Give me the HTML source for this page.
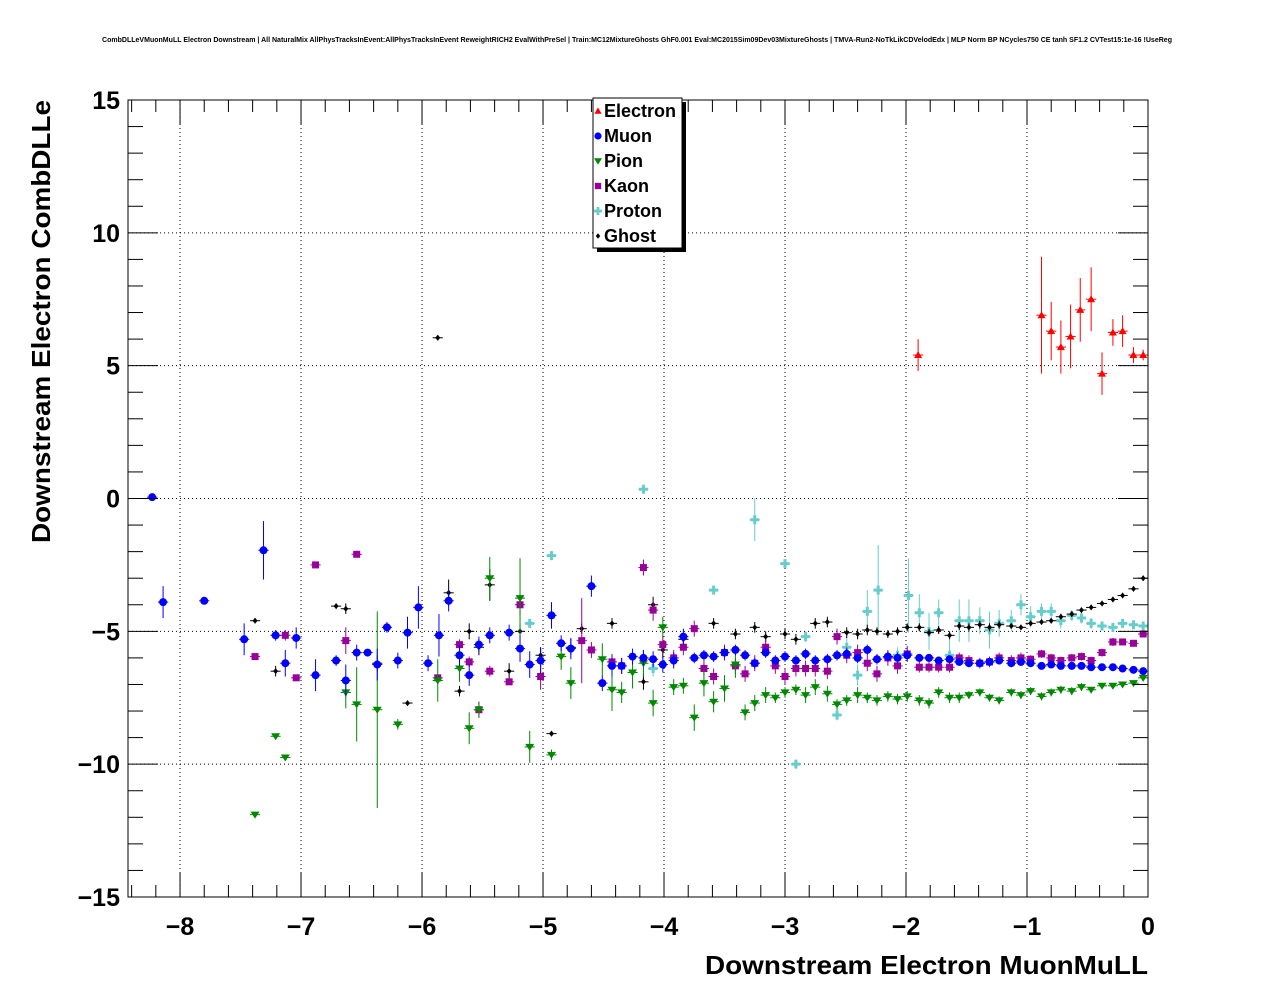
<!DOCTYPE html>
<html><head><meta charset="utf-8">
<style>
html,body{margin:0;padding:0;background:#fff;}
svg{display:block;font-family:"Liberation Sans",Arial,sans-serif;}
</style></head>
<body>
<svg id="chart" width="1276" height="996" viewBox="0 0 1276 996" xmlns="http://www.w3.org/2000/svg">
<rect x="0" y="0" width="1276" height="996" fill="#fff"/>
<text x="637" y="42" font-size="7" font-weight="bold" text-anchor="middle" textLength="1070" lengthAdjust="spacingAndGlyphs">CombDLLeVMuonMuLL Electron Downstream | All NaturalMix AllPhysTracksInEvent:AllPhysTracksInEvent ReweightRICH2 EvalWithPreSel | Train:MC12MixtureGhosts GhF0.001 Eval:MC2015Sim09Dev03MixtureGhosts | TMVA-Run2-NoTkLikCDVelodEdx | MLP Norm BP NCycles750 CE tanh SF1.2 CVTest15:1e-16 !UseReg</text>
<g id="grid"></g>
<g id="marks"></g>
<rect x="128" y="100" width="1020" height="797" fill="none" stroke="#000" stroke-width="1"/>
<g id="axes"></g>
<text x="1148" y="974" font-size="26" font-weight="bold" text-anchor="end" textLength="443" lengthAdjust="spacingAndGlyphs">Downstream Electron MuonMuLL</text>
<text transform="translate(50,100) rotate(-90)" font-size="26" font-weight="bold" text-anchor="end" textLength="443" lengthAdjust="spacingAndGlyphs">Downstream Electron CombDLLe</text>
<g id="legend"></g>
</svg>
<script>
const xTicks=[-8,-7,-6,-5,-4,-3,-2,-1,0];
const yTicks=[-15,-10,-5,0,5,10,15];
const electronPts=[[-1.90,5.4,0.6],[-0.88,6.9,2.2],[-0.80,6.3,1.1],[-0.72,5.7,1.0],[-0.64,6.1,1.2],[-0.56,7.1,1.2],[-0.47,7.5,1.2],[-0.38,4.7,0.8],[-0.29,6.25,0.5],[-0.21,6.3,0.6],[-0.12,5.4,0.3],[-0.04,5.4,0.2]];
const muonPts=[[-8.23,0.05,0.1],[-8.14,-3.9,0.6],[-7.80,-3.85,0.1],[-7.47,-5.3,0.6],[-7.31,-1.95,1.1],[-7.21,-5.15,0.2],[-7.13,-6.2,0.5],[-7.04,-5.25,0.4],[-6.88,-6.65,0.6],[-6.71,-6.1,0.2],[-6.63,-6.85,0.6],[-6.54,-5.8,0.3],[-6.45,-5.8,0.1],[-6.37,-6.25,0.6],[-6.29,-4.85,0.2],[-6.20,-6.1,0.3],[-6.12,-5.05,0.6],[-6.03,-4.1,0.8],[-5.95,-6.2,0.3],[-5.86,-5.15,0.8],[-5.78,-3.85,0.4],[-5.69,-5.9,0.4],[-5.61,-6.65,0.4],[-5.53,-5.5,0.3],[-5.44,-5.15,0.3],[-5.28,-5.05,0.3],[-5.19,-5.65,0.5],[-5.11,-6.25,0.5],[-5.02,-6.1,0.5],[-4.93,-4.4,0.5],[-4.85,-5.45,0.3],[-4.77,-5.65,0.4],[-4.60,-3.3,0.4],[-4.51,-6.95,0.3],[-4.43,-6.3,0.4],[-4.35,-6.3,0.3],[-4.26,-5.95,0.3],[-4.17,-6.0,0.3],[-4.09,-6.05,0.3],[-4.01,-6.25,0.3],[-3.92,-6.1,0.3],[-3.84,-5.2,0.3],[-3.75,-6.0,0.2],[-3.67,-5.9,0.2],[-3.59,-5.95,0.2],[-3.50,-5.8,0.2],[-3.41,-5.7,0.2],[-3.33,-5.9,0.2],[-3.25,-6.2,0.2],[-3.16,-5.8,0.2],[-3.08,-6.1,0.2],[-3.00,-5.95,0.2],[-2.91,-6.1,0.2],[-2.83,-5.85,0.2],[-2.75,-6.1,0.2],[-2.65,-6.05,0.2],[-2.57,-5.9,0.2],[-2.49,-5.85,0.2],[-2.40,-6.0,0.2],[-2.32,-5.7,0.2],[-2.24,-6.05,0.2],[-2.15,-5.95,0.2],[-2.07,-6.0,0.2],[-1.99,-5.9,0.2],[-1.89,-6.0,0.15],[-1.81,-6.0,0.15],[-1.73,-6.1,0.15],[-1.64,-6.05,0.15],[-1.56,-6.15,0.15],[-1.48,-6.2,0.15],[-1.39,-6.2,0.15],[-1.31,-6.15,0.15],[-1.23,-6.1,0.15],[-1.13,-6.2,0.15],[-1.05,-6.15,0.15],[-0.97,-6.2,0.1],[-0.88,-6.3,0.1],[-0.80,-6.25,0.1],[-0.72,-6.3,0.1],[-0.63,-6.3,0.1],[-0.55,-6.3,0.1],[-0.47,-6.35,0.1],[-0.38,-6.35,0.1],[-0.29,-6.35,0.1],[-0.21,-6.4,0.1],[-0.12,-6.45,0.1],[-0.04,-6.5,0.1]];
const pionPts=[[-7.38,-11.9,0.1],[-7.21,-8.95,0.1],[-7.13,-9.75,0.1],[-6.63,-7.3,0.6],[-6.54,-7.75,1.4],[-6.37,-7.95,3.7],[-6.20,-8.5,0.2],[-5.87,-6.85,0.8],[-5.69,-6.4,0.5],[-5.61,-8.65,0.6],[-5.53,-7.95,0.3],[-5.44,-3.0,0.8],[-5.19,-3.75,1.5],[-5.11,-9.35,0.6],[-4.93,-9.65,0.2],[-4.85,-5.95,0.5],[-4.77,-6.95,0.6],[-4.51,-6.05,0.6],[-4.43,-7.2,0.8],[-4.35,-7.3,0.4],[-4.26,-6.55,0.6],[-4.17,-6.2,0.5],[-4.09,-7.7,0.5],[-4.01,-4.85,0.4],[-3.92,-7.1,0.3],[-3.84,-7.05,0.3],[-3.75,-8.25,0.5],[-3.67,-6.95,0.5],[-3.59,-7.65,0.4],[-3.50,-7.15,0.5],[-3.41,-6.25,0.5],[-3.33,-8.05,0.3],[-3.25,-7.7,0.3],[-3.16,-7.4,0.3],[-3.08,-7.5,0.2],[-3.00,-7.3,0.2],[-2.91,-7.2,0.2],[-2.83,-7.4,0.3],[-2.75,-7.1,0.3],[-2.65,-7.35,0.3],[-2.57,-7.75,0.2],[-2.49,-7.6,0.2],[-2.40,-7.4,0.3],[-2.32,-7.5,0.2],[-2.24,-7.6,0.2],[-2.15,-7.45,0.2],[-2.07,-7.55,0.2],[-1.99,-7.45,0.2],[-1.89,-7.6,0.2],[-1.81,-7.7,0.2],[-1.73,-7.3,0.2],[-1.64,-7.5,0.2],[-1.56,-7.5,0.2],[-1.48,-7.4,0.15],[-1.39,-7.3,0.15],[-1.31,-7.5,0.15],[-1.23,-7.6,0.15],[-1.13,-7.3,0.15],[-1.05,-7.4,0.15],[-0.97,-7.25,0.15],[-0.88,-7.45,0.15],[-0.80,-7.3,0.15],[-0.72,-7.2,0.15],[-0.63,-7.25,0.15],[-0.55,-7.1,0.15],[-0.47,-7.2,0.1],[-0.38,-7.05,0.1],[-0.29,-7.05,0.1],[-0.21,-7.0,0.1],[-0.12,-6.95,0.1],[-0.04,-6.75,0.1]];
const kaonPts=[[-7.38,-5.95,0.1],[-7.13,-5.15,0.2],[-7.04,-6.75,0.1],[-6.88,-2.5,0.1],[-6.63,-5.35,0.5],[-6.54,-2.1,0.1],[-5.87,-6.75,0.1],[-5.69,-5.5,0.2],[-5.61,-6.15,0.2],[-5.53,-7.95,0.3],[-5.44,-6.5,0.2],[-5.28,-6.9,0.1],[-5.19,-4.0,0.4],[-5.02,-6.7,0.5],[-4.68,-5.35,1.6],[-4.60,-5.7,0.3],[-4.43,-6.15,0.3],[-4.35,-6.3,0.3],[-4.17,-2.6,0.3],[-4.09,-4.2,0.4],[-4.01,-5.5,0.3],[-3.92,-6.0,0.3],[-3.84,-5.6,0.3],[-3.75,-4.9,0.3],[-3.67,-6.4,0.3],[-3.59,-6.7,0.3],[-3.50,-5.8,0.3],[-3.41,-6.3,0.3],[-3.33,-6.6,0.3],[-3.25,-6.2,0.3],[-3.16,-5.6,0.3],[-3.08,-6.3,0.3],[-3.00,-6.7,0.3],[-2.91,-6.4,0.3],[-2.83,-6.4,0.3],[-2.75,-6.4,0.3],[-2.65,-6.5,0.3],[-2.57,-5.2,0.3],[-2.49,-5.9,0.3],[-2.40,-5.8,0.3],[-2.32,-6.2,0.3],[-2.24,-6.6,0.3],[-2.15,-6.0,0.3],[-2.07,-6.3,0.3],[-1.99,-5.85,0.3],[-1.89,-6.35,0.2],[-1.81,-6.35,0.2],[-1.73,-6.35,0.2],[-1.64,-6.35,0.2],[-1.56,-6.0,0.2],[-1.48,-6.1,0.2],[-1.39,-6.2,0.2],[-1.31,-6.15,0.2],[-1.23,-6.0,0.2],[-1.13,-6.1,0.2],[-1.05,-6.0,0.2],[-0.97,-6.05,0.15],[-0.88,-5.85,0.15],[-0.80,-6.0,0.15],[-0.72,-6.1,0.15],[-0.63,-6.0,0.15],[-0.55,-5.95,0.15],[-0.47,-6.1,0.15],[-0.38,-5.8,0.15],[-0.29,-5.4,0.15],[-0.21,-5.4,0.1],[-0.12,-5.45,0.1],[-0.04,-5.1,0.1]];
const protonPts=[[-5.11,-4.7,0.1],[-4.93,-2.15,0.1],[-4.17,0.35,0.1],[-4.09,-6.4,0.3],[-3.59,-3.45,0.1],[-3.25,-0.8,0.8],[-3.00,-2.45,0.1],[-2.91,-10.0,0.1],[-2.83,-5.2,0.2],[-2.57,-8.15,0.2],[-2.49,-5.6,0.4],[-2.40,-6.65,0.4],[-2.32,-4.25,0.8],[-2.23,-3.45,1.7],[-2.07,-5.9,0.3],[-1.98,-3.65,1.4],[-1.89,-4.3,0.7],[-1.81,-5.0,0.7],[-1.73,-4.3,0.5],[-1.64,-5.9,0.6],[-1.56,-4.6,0.8],[-1.48,-4.6,0.8],[-1.39,-4.6,0.5],[-1.31,-4.95,0.7],[-1.23,-4.7,0.5],[-1.13,-4.6,0.4],[-1.05,-4.0,0.4],[-0.97,-4.45,0.4],[-0.88,-4.25,0.3],[-0.80,-4.25,0.3],[-0.72,-4.6,0.3],[-0.63,-4.4,0.2],[-0.55,-4.5,0.2],[-0.47,-4.7,0.2],[-0.38,-4.8,0.15],[-0.29,-4.85,0.15],[-0.21,-4.7,0.15],[-0.12,-4.75,0.15],[-0.04,-4.8,0.15]];
const ghostPts=[[-7.38,-4.6,0.1],[-7.21,-6.5,0.2],[-6.71,-4.05,0.1],[-6.63,-4.15,0.2],[-6.37,-6.2,0.3],[-6.12,-7.7,0.1],[-5.87,6.05,0.1],[-5.78,-3.55,0.5],[-5.69,-7.25,0.2],[-5.61,-5.0,0.3],[-5.53,-5.6,0.3],[-5.44,-3.25,0.6],[-5.28,-6.5,0.3],[-5.19,-5.0,0.3],[-5.02,-5.9,0.3],[-4.93,-8.85,0.1],[-4.77,-5.6,0.3],[-4.68,-4.9,0.2],[-4.43,-4.7,0.2],[-4.17,-6.9,0.3],[-4.09,-4.0,0.3],[-4.01,-5.7,0.3],[-3.84,-5.3,0.2],[-3.67,-6.4,0.2],[-3.59,-4.7,0.2],[-3.41,-5.1,0.2],[-3.25,-4.85,0.2],[-3.16,-5.2,0.2],[-3.00,-5.1,0.2],[-2.91,-5.3,0.2],[-2.75,-4.7,0.2],[-2.65,-4.65,0.2],[-2.49,-5.05,0.2],[-2.40,-5.1,0.2],[-2.32,-4.95,0.2],[-2.24,-5.0,0.15],[-2.15,-5.1,0.15],[-2.07,-5.0,0.15],[-1.99,-4.85,0.15],[-1.89,-4.85,0.15],[-1.81,-5.05,0.15],[-1.73,-4.95,0.15],[-1.64,-5.15,0.15],[-1.56,-4.8,0.15],[-1.48,-4.85,0.15],[-1.39,-4.75,0.15],[-1.31,-4.85,0.15],[-1.23,-4.75,0.15],[-1.13,-4.8,0.1],[-1.05,-4.85,0.1],[-0.97,-4.7,0.1],[-0.88,-4.65,0.1],[-0.80,-4.6,0.1],[-0.72,-4.45,0.1],[-0.63,-4.35,0.1],[-0.55,-4.2,0.1],[-0.47,-4.1,0.1],[-0.38,-3.95,0.1],[-0.29,-3.8,0.1],[-0.21,-3.65,0.1],[-0.12,-3.4,0.1],[-0.04,-3.0,0.1]];

const X0=128,X1=1148,Y0=100,Y1=897,XMIN=-8.43,XMAX=0,YMIN=-15,YMAX=15;
const sx=v=>X0+(v-XMIN)/(XMAX-XMIN)*(X1-X0);
const sy=v=>Y1-(v-YMIN)/(YMAX-YMIN)*(Y1-Y0);
const NS="http://www.w3.org/2000/svg";
function mk(tag,attrs,parent){const e=document.createElementNS(NS,tag);for(const k in attrs)e.setAttribute(k,attrs[k]);parent.appendChild(e);return e;}
const grid=document.getElementById('grid'),axes=document.getElementById('axes'),marks=document.getElementById('marks'),legend=document.getElementById('legend');
xTicks.forEach(t=>{
  const x=sx(t);
  const g=mk('line',{x1:x,x2:x,y1:Y0,y2:Y1,stroke:'#000','stroke-width':1,'stroke-dasharray':'1,3'},grid);
  
  
  mk('line',{x1:x,x2:x,y1:Y1,y2:Y1-24,stroke:'#000'},axes);
  mk('line',{x1:x,x2:x,y1:Y0,y2:Y0+24,stroke:'#000'},axes);
  const lb=mk('text',{x:x,y:935,'font-size':25,'font-weight':'bold','text-anchor':'middle'},axes);
  lb.textContent=t<0?'\u2212'+Math.abs(t):String(t);
  
  
});
for(let v=-8.4;v<=0.001;v+=0.2){const x=sx(v);if(Math.abs(v-Math.round(v))<0.01||x<X0)continue;
  mk('line',{x1:x,x2:x,y1:Y1,y2:Y1-12,stroke:'#000'},axes);mk('line',{x1:x,x2:x,y1:Y0,y2:Y0+12,stroke:'#000'},axes);}
yTicks.forEach(t=>{
  const y=sy(t);
  if(t>YMIN&&t<YMAX){const g=mk('line',{x1:X0,x2:X1,y1:y,y2:y,stroke:'#000','stroke-width':1,'stroke-dasharray':'1,3'},grid);
  
  }
  mk('line',{x1:X0,x2:X0+30,y1:y,y2:y,stroke:'#000'},axes);
  mk('line',{x1:X1,x2:X1-30,y1:y,y2:y,stroke:'#000'},axes);
  const lb=mk('text',{x:120,y:y+9,'font-size':25,'font-weight':'bold','text-anchor':'end'},axes);
  lb.textContent=t<0?'\u2212'+Math.abs(t):String(t);
  
  
});
for(let v=-14;v<15;v++){if(v%5===0)continue;const y=sy(v);
  mk('line',{x1:X0,x2:X0+15,y1:y,y2:y,stroke:'#000'},axes);mk('line',{x1:X1,x2:X1-15,y1:y,y2:y,stroke:'#000'},axes);}
function marker(type,cx,cy,color,parent,s){
  s=s||1;
  if(type==='tri')return mk('polygon',{points:`${cx},${cy-4*s} ${cx+4*s},${cy+3*s} ${cx-4*s},${cy+3*s}`,fill:color},parent);
  if(type==='circ')return mk('circle',{cx:cx,cy:cy,r:4*s,fill:color},parent);
  if(type==='tridown')return mk('polygon',{points:`${cx-4.5*s},${cy-3*s} ${cx+4.5*s},${cy-3*s} ${cx},${cy+4*s}`,fill:color},parent);
  if(type==='sq')return mk('rect',{x:cx-3.5*s,y:cy-3.5*s,width:7*s,height:7*s,fill:color},parent);
  if(type==='cross')return mk('path',{d:`M${cx-4.5*s},${cy-1.5*s}h${3*s}v${-3*s}h${3*s}v${3*s}h${3*s}v${3*s}h${-3*s}v${3*s}h${-3*s}v${-3*s}h${-3*s}z`,fill:color},parent);
  if(type==='dia')return mk('polygon',{points:`${cx},${cy-3*s} ${cx+2.5*s},${cy} ${cx},${cy+3*s} ${cx-2.5*s},${cy}`,fill:color},parent);
}
const series=[
 {name:'Electron',pts:electronPts,color:'#ff0000',m:'tri'},
 {name:'Muon',pts:muonPts,color:'#0000ff',m:'circ'},
 {name:'Pion',pts:pionPts,color:'#008800',m:'tridown'},
 {name:'Kaon',pts:kaonPts,color:'#990099',m:'sq'},
 {name:'Proton',pts:protonPts,color:'#66cccc',m:'cross'},
 {name:'Ghost',pts:ghostPts,color:'#000000',m:'dia'}];
const drawOrder=[4,5,3,2,1,0];
drawOrder.forEach(i=>{const s=series[i];
  const g=mk('g',{},marks);
  
  
  s.pts.forEach(p=>{const cx=sx(p[0]),cy=sy(p[1]);
    mk('line',{x1:sx(p[0]-0.042),x2:sx(p[0]+0.042),y1:cy,y2:cy,stroke:s.color,'stroke-width':1},g);
    mk('line',{x1:cx,x2:cx,y1:sy(p[1]-p[2]),y2:sy(p[1]+p[2]),stroke:s.color,'stroke-width':1},g);
    const m=marker(s.m,cx,cy,s.color,g);
    
    
  });
});
mk('rect',{x:597,y:102,width:89,height:150,fill:'#000'},legend);
const lb=mk('rect',{x:593,y:98,width:89,height:150,fill:'#fff',stroke:'#000'},legend);


series.forEach((s,i)=>{const y=111+i*25;
  const e=mk('g',{},legend);
  
  
  marker(s.m,598,y,s.color,e,0.9);
  const t=mk('text',{x:604,y:y+6,'font-size':18,'font-weight':'bold'},e);
  t.textContent=s.name;
});
</script>
</body></html>
